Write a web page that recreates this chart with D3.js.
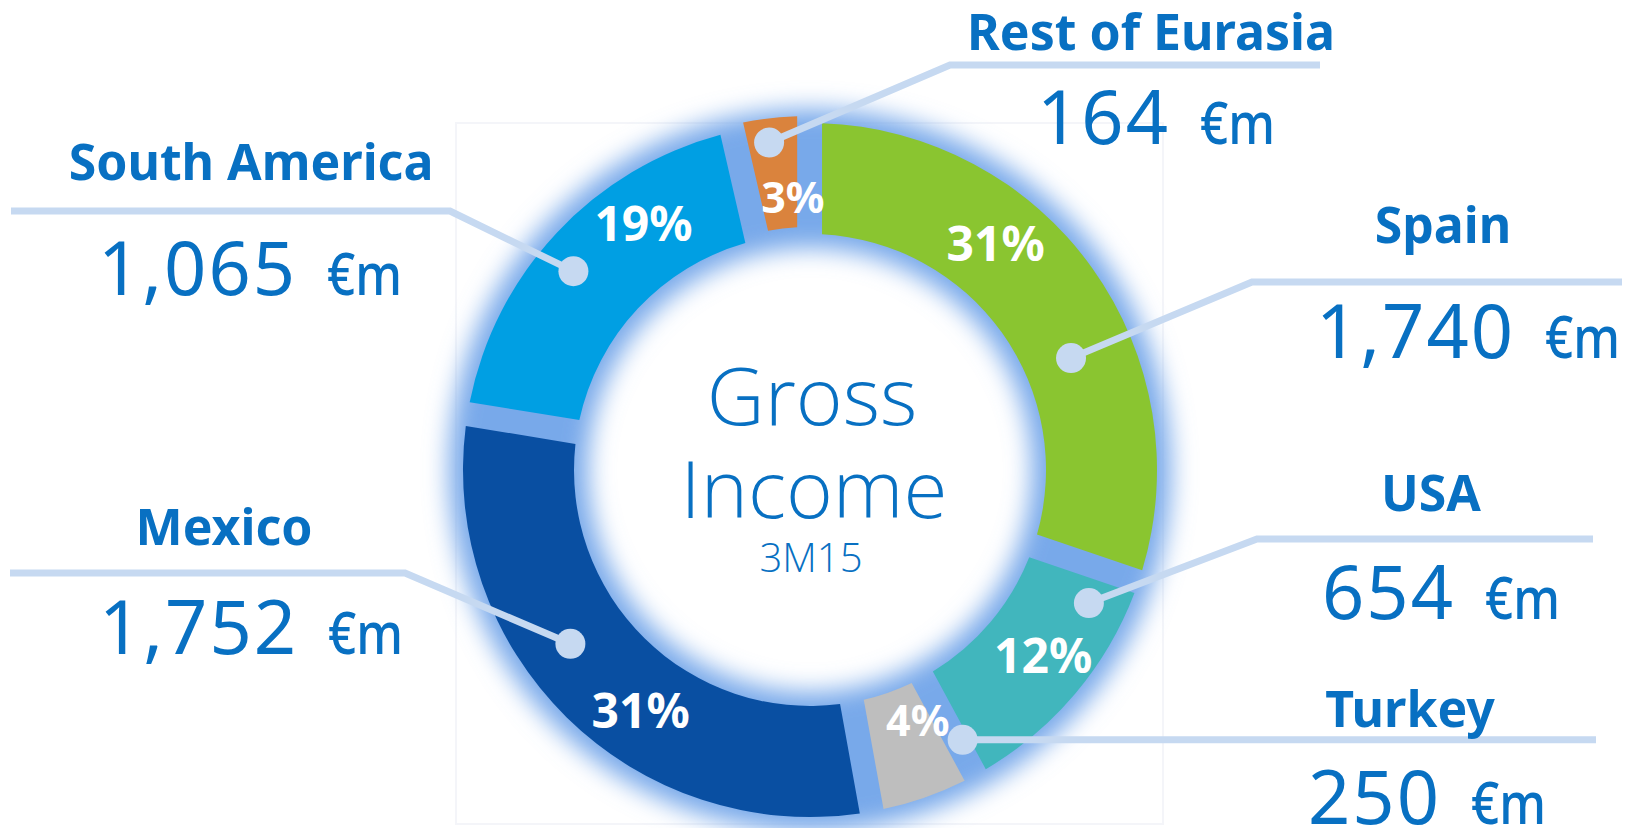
<!DOCTYPE html>
<html>
<head>
<meta charset="utf-8">
<script src="https://cdn.jsdelivr.net/npm/d3@7"></script>
<style>
  html, body { margin: 0; padding: 0; background: #ffffff; }
  svg { display: block; }
</style>
</head>
<body>
<svg id="chart" width="1636" height="828"></svg>
<script>
// Gross income by region, 3M15 (€ millions)
const regions = ["Spain", "USA", "Turkey", "Mexico", "South America", "Rest of Eurasia"];
const income = [1740, 654, 250, 1752, 1065, 164];
const shareLabels = ["31%", "12%", "4%", "31%", "19%", "3%"];
const valueLabels = ["1,740", "654", "250", "1,752", "1,065", "164"];
const unitLabel = "€m";
const centerLines = ["Gross", "Income"];
const periodLabel = "3M15";

const colors = ["#8ac530", "#41b6bd", "#bebebe", "#094fa2", "#009fe3", "#da833d"];
const exploded = [0, 0, 0, 0, 0, 7];

// Where each callout sits: share label and leader dot as a fraction along the slice,
// then the elbow / end of the leader and the title/value text anchors.
const callouts = [
  { labelAt: 0.36,  labelR: 294, dotAt: 0.614,  dotR: 284, elbow: [1252, 282], lineEnd: 1622, title: [1443, 243], value: [1468, 358] },
  { labelAt: 0.456, labelR: 297, dotAt: 0.157,  dotR: 309, elbow: [1257, 539], lineEnd: 1593, title: [1431, 511], value: [1441, 619] },
  { labelAt: 0.28,  labelR: 272, dotAt: -0.058, dotR: 310, elbow: null,        lineEnd: 1596, title: [1410, 727], value: [1427, 824] },
  { labelAt: 0.416, labelR: 293, dotAt: 0.587,  dotR: 296, elbow: [405, 573],  lineEnd: 10,   title: [224, 545],  value: [251, 654] },
  { labelAt: 0.69,  labelR: 298, dotAt: 0.454,  dotR: 309, elbow: [450, 211],  lineEnd: 11,   title: [251, 180],  value: [250, 295] },
  { labelAt: 0.73,  labelR: 267, dotAt: 0.45,   dotR: 323, elbow: [950, 65],   lineEnd: 1320, title: [1151, 50],  value: [1156, 144] }
];

const W = 1636, H = 828;
const cx = 810, cy = 470;
const rInner = 236, rOuter = 347;
const blue = "#0870c2";
const leaderColor = "#c6d9f1";

const svg = d3.select("#chart");

const defs = svg.append("defs");
defs.append("filter")
  .attr("id", "glow")
  .attr("x", "-20%").attr("y", "-20%").attr("width", "140%").attr("height", "140%")
  .append("feGaussianBlur").attr("stdDeviation", 12);

// faint frame behind the ring
svg.append("rect")
  .attr("x", 456).attr("y", 123).attr("width", 707).attr("height", 701)
  .attr("fill", "none").attr("stroke", "#f4f5f9").attr("stroke-width", 2);

const rows = regions.map((name, i) => ({
  name, value: income[i], share: shareLabels[i], valueLabel: valueLabels[i],
  color: colors[i], explode: exploded[i], callout: callouts[i]
}));

const pie = d3.pie()
  .sort(null)
  .value(d => d.value)
  .padAngle(3 * Math.PI / 180);

const arcs = pie(rows);

const arc = d3.arc()
  .innerRadius(rInner)
  .outerRadius(rOuter)
  .padRadius(460);

const polar = (a, r) => [r * Math.sin(a), -r * Math.cos(a)];

const g = svg.append("g").attr("transform", `translate(${cx},${cy})`);

// soft blue halo under the ring (shows through the gaps)
g.append("path")
  .attr("d", d3.arc().innerRadius(rInner - 14).outerRadius(rOuter + 14)({ startAngle: 0, endAngle: 2 * Math.PI }))
  .attr("fill", "#78a9ea")
  .attr("filter", "url(#glow)");

const slices = g.selectAll("g.slice")
  .data(arcs)
  .join("g")
  .attr("class", "slice")
  .attr("transform", d => {
    const mid = (d.startAngle + d.endAngle) / 2;
    const [dx, dy] = polar(mid, d.data.explode);
    return `translate(${dx},${dy})`;
  });

slices.append("path")
  .attr("d", arc)
  .attr("fill", d => d.data.color);

const angleAt = (d, f) => d.startAngle + f * (d.endAngle - d.startAngle);
const offsetOf = d => polar((d.startAngle + d.endAngle) / 2, d.data.explode);

// share labels inside the ring
slices.append("text")
  .attr("x", d => polar(angleAt(d, d.data.callout.labelAt), d.data.callout.labelR)[0])
  .attr("y", d => polar(angleAt(d, d.data.callout.labelAt), d.data.callout.labelR)[1])
  .attr("text-anchor", "middle")
  .attr("dominant-baseline", "central")
  .attr("fill", "#ffffff")
  .attr("font-family", "'Noto Sans', 'Open Sans', sans-serif")
  .attr("font-weight", 700)
  .attr("font-size", d => (d.value / d3.sum(income) < 0.05 ? 43 : 48))
  .text(d => d.data.share);

// leader lines and dots
const leaders = svg.append("g");
arcs.forEach(d => {
  const c = d.data.callout;
  const [ox, oy] = offsetOf(d);
  const [px, py] = polar(angleAt(d, c.dotAt), c.dotR);
  const dot = [cx + ox + px, cy + oy + py];
  const pts = c.elbow ? [dot, c.elbow, [c.lineEnd, c.elbow[1]]] : [dot, [c.lineEnd, dot[1]]];
  leaders.append("path")
    .attr("d", d3.line()(pts))
    .attr("fill", "none")
    .attr("stroke", leaderColor)
    .attr("stroke-width", 7)
    .attr("stroke-linejoin", "miter");
  leaders.append("circle")
    .attr("cx", dot[0]).attr("cy", dot[1]).attr("r", 15)
    .attr("fill", leaderColor);
});

// region titles and amounts
const labels = svg.append("g")
  .attr("font-family", "'Noto Sans', 'Open Sans', sans-serif")
  .attr("fill", blue);

arcs.forEach(d => {
  const c = d.data.callout;
  labels.append("text")
    .attr("x", c.title[0]).attr("y", c.title[1])
    .attr("text-anchor", "middle")
    .attr("font-weight", 700)
    .attr("font-size", 50)
    .text(d.data.name);

  const num = labels.append("text")
    .attr("y", c.value[1])
    .attr("font-size", 74)
    .attr("font-weight", 400)
    .attr("letter-spacing", 2)
    .text(d.data.valueLabel);
  const unit = labels.append("text")
    .attr("y", c.value[1])
    .attr("font-size", 58)
    .attr("font-weight", 500)
    .attr("textLength", 75)
    .attr("lengthAdjust", "spacingAndGlyphs")
    .text(unitLabel);
  const gap = 30;
  const nw = num.node().getComputedTextLength();
  const total = nw + gap + 75;
  const x0 = c.value[0] - total / 2;
  num.attr("x", x0);
  unit.attr("x", x0 + nw + gap);
});

// centre caption
const centre = svg.append("g")
  .attr("font-family", "'Open Sans', 'Noto Sans', sans-serif")
  .attr("font-weight", 300)
  .attr("fill", blue)
  .attr("text-anchor", "middle");
centre.append("text").attr("x", 812).attr("y", 425).attr("font-size", 80).text(centerLines[0]);
centre.append("text").attr("x", 814).attr("y", 518).attr("font-size", 80).text(centerLines[1]);
centre.append("text").attr("x", 811).attr("y", 572).attr("font-size", 40).text(periodLabel);
</script>
</body>
</html>
